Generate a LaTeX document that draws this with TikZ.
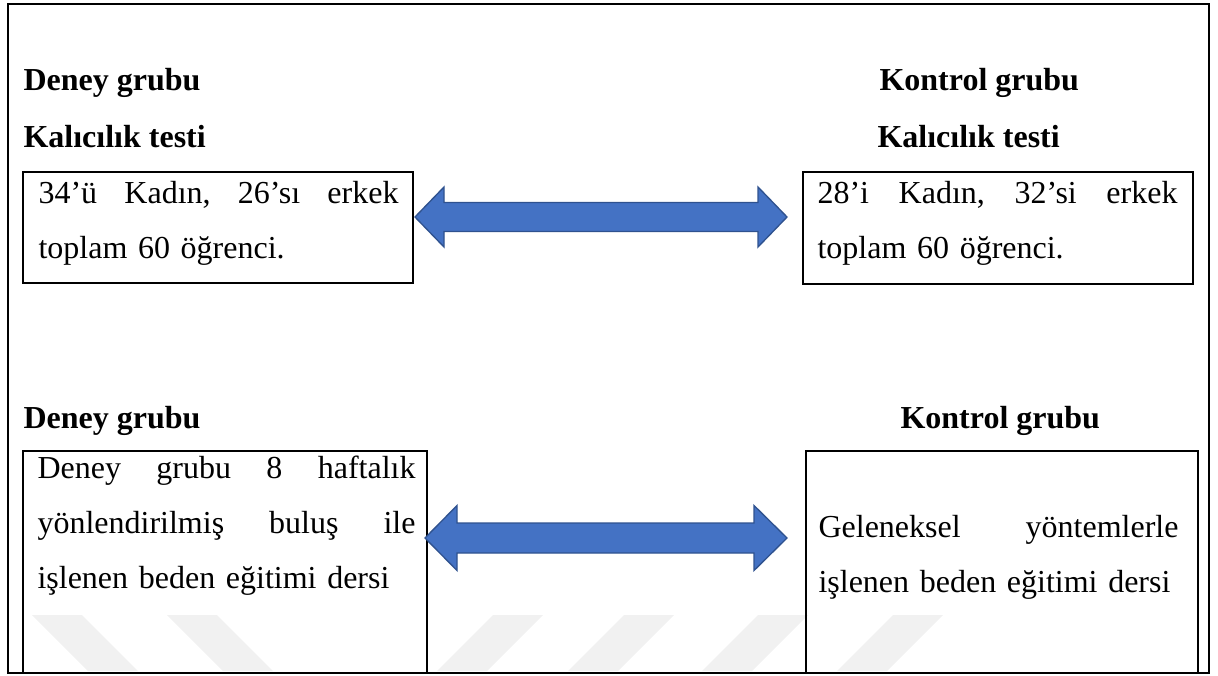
\documentclass[tikz,border=0pt]{standalone}
\usepackage{fontspec}
\setmainfont{Liberation Serif}
\usepackage{xcolor}
\usepackage{tikz}
\usetikzlibrary{calc, positioning, fit}
\definecolor{arrowfill}{HTML}{4472C4}
\definecolor{arrowline}{HTML}{2F528F}
\definecolor{markgray}{HTML}{F1F1F1}
\tikzset{
    groupdesign/.style={
        x=0.375pt, y=-0.375pt,
        font=\fontsize{12pt}{20.7pt}\selectfont,
        frame/.style={draw, line width=1.1pt},
        box/.style={draw, rectangle, line width=1pt, inner sep=0pt},
        heading/.style={font=\fontsize{12pt}{20.7pt}\selectfont\bfseries, anchor=base west, inner sep=0pt},
        boxtext/.style={anchor=base west, inner sep=0pt, align=left, text width=135pt},
        bigarrow/.style={fill=arrowfill, draw=arrowline, line width=0.5pt, line join=miter},
        watermark/.style={fill=markgray, draw=none}
    }
}

\begin{document}
\begin{tikzpicture}[groupdesign]
        \useasboundingbox (0,0) rectangle (1218,675);

        % Watermark stripes
        \foreach \sx in {32, 167}
            \fill[watermark] (\sx,615) -- (\sx+50,615) -- (\sx+106,671) -- (\sx+56,671) -- cycle;
        \foreach \sx in {493, 624, 758, 893}
            \fill[watermark] (\sx,615) -- (\sx+50,615) -- (\sx-6,671) -- (\sx-56,671) -- cycle;

        % Outer frame
        \draw[frame] (8,4) rectangle (1209,673);

        % Retention test
        \node[heading] (dgroup1) at (23,90) {Deney grubu};
        \node[heading] (dtest) at (23,147) {Kalıcılık testi};
        \node[heading] (kgroup1) at (879,90) {Kontrol grubu};
        \node[heading] (ktest) at (877,147) {Kalıcılık testi};

        \node[box, fit={(23,172) (413,283)}] (dtop) {};
        \node[box, fit={(803,172) (1193,284)}] (ktop) {};
        \node[boxtext] (dtoptext) at (38,203)
            {34’ü\hfill Kadın,\hfill 26’sı\hfill erkek\\ toplam 60 öğrenci.};
        \node[boxtext] (ktoptext) at (817,203)
            {28’i\hfill Kadın,\hfill 32’si\hfill erkek\\ toplam 60 öğrenci.};

        \coordinate (a1l) at (415,217);
        \coordinate (a1r) at (787,217);
        \draw[bigarrow] (a1l) -- ++(29,-30) -- ++(0,15.5) -- (758,202.5) -- (758,187)
            -- (a1r) -- (758,247) -- (758,231.5) -- (444,231.5) -- (444,247) -- cycle;

        % Teaching
        \node[heading] (dgroup2) at (23,428) {Deney grubu};
        \node[heading] (kgroup2) at (900,428) {Kontrol grubu};

        \node[box, fit={(23,451) (427,673)}] (dbot) {};
        \node[box, fit={(806,451) (1198,673)}] (kbot) {};
        \node[boxtext, text width=141.75pt] (dbottext) at (37,478)
            {Deney\hfill grubu\hfill 8\hfill haftalık\\ yönlendirilmiş\hfill buluş\hfill ile\\ işlenen beden eğitimi dersi};
        \node[boxtext] (kbottext) at (818,537)
            {Geleneksel\hfill yöntemlerle\\ işlenen beden eğitimi dersi};

        \coordinate (a2l) at (425,538);
        \coordinate (a2r) at (787,538);
        \draw[bigarrow] (a2l) -- ++(32,-32.5) -- ++(0,17.5) -- (754,523) -- (754,505.5)
            -- (a2r) -- (754,570.5) -- (754,553) -- (457,553) -- (457,570.5) -- cycle;
\end{tikzpicture}
\end{document}
